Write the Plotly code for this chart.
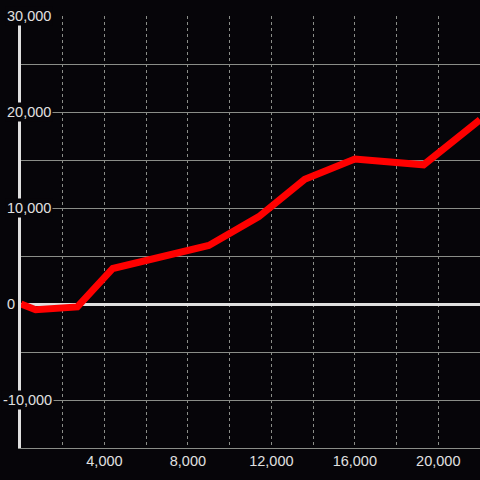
import plotly.graph_objects as go

# data
x_vals = [0, 700, 2700, 4400, 9000, 11400, 13600, 16000, 19300, 22000]
y_vals = [0, -600, -300, 3700, 6100, 9100, 13000, 15100, 14500, 19200]

x_tick_vals = [4000, 8000, 12000, 16000, 20000]
x_tick_text = ["4,000", "8,000", "12,000", "16,000", "20,000"]
y_tick_vals = [-10000, 0, 10000, 20000, 30000]
y_tick_text = ["-10,000", "0", "10,000", "20,000", "30,000"]

BG = "#060509"
GRID = "#8a8d88"
LIGHT = "#e0e0e0"
FONT = "Liberation Sans"
FS = 14.5

fig = go.Figure(
    go.Scatter(x=x_vals, y=y_vals, mode="lines",
               line=dict(color="#ff0000", width=7), hoverinfo="skip")
)

fig.update_layout(
    width=480, height=480,
    margin=dict(l=21, r=0, t=16, b=32, pad=0),
    paper_bgcolor=BG, plot_bgcolor=BG,
    showlegend=False,
    font=dict(family=FONT, size=FS, color=LIGHT),
)

fig.update_xaxes(
    range=[0, 22000],
    tickvals=x_tick_vals, ticktext=x_tick_text,
    ticks="", showgrid=True, gridcolor=GRID, gridwidth=1, griddash="3px,3px",
    minor=dict(dtick=2000, tick0=0, showgrid=True, gridcolor=GRID,
               gridwidth=1, griddash="3px,3px"),
    showline=True, linecolor=GRID, linewidth=1,
    zeroline=False,
    tickfont=dict(family=FONT, size=FS, color=LIGHT),
)

fig.update_yaxes(
    range=[-15000, 30000],
    dtick=5000, tick0=0, showticklabels=False, ticks="",
    showgrid=True, gridcolor=GRID, gridwidth=1,
    zeroline=True, zerolinecolor=LIGHT, zerolinewidth=3,
    showline=True, linecolor=LIGHT, linewidth=3,
)

for v, t in zip(y_tick_vals, y_tick_text):
    fig.add_annotation(
        x=0, xref="paper", y=v, yref="y", text=t, showarrow=False,
        xanchor="left", yanchor="middle",
        xshift=(-16 if v >= 0 else -20),
        bgcolor=(BG if v != 0 else "rgba(0,0,0,0)"), borderpad=1,
        font=dict(family=FONT, size=FS, color=LIGHT),
    )

fig.write_html(
    "out.html",
    config={"displayModeBar": False},
    post_script="document.body.style.margin='0';document.body.style.overflow='hidden';document.body.style.background='%s';" % BG,
)
